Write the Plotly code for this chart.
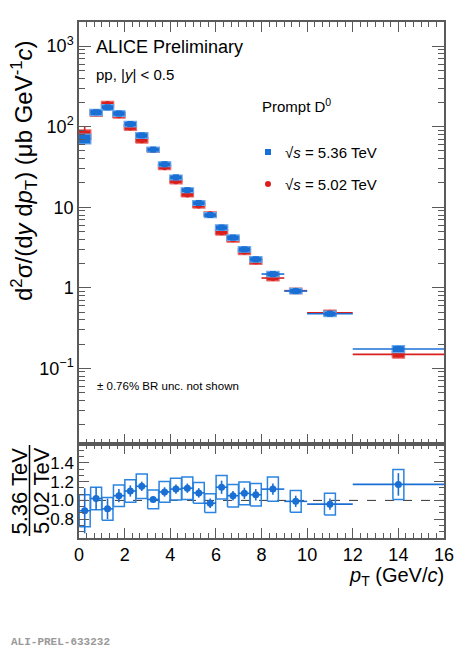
import plotly.graph_objects as go

# pT bins (GeV/c)
pt_lo = [0, 0.5, 1, 1.5, 2, 2.5, 3, 3.5, 4, 4.5, 5, 5.5, 6, 6.5, 7, 7.5, 8, 9, 10, 12]
pt_hi = [0.5, 1, 1.5, 2, 2.5, 3, 3.5, 4, 4.5, 5, 5.5, 6, 6.5, 7, 7.5, 8, 9, 10, 12, 16]

# cross sections (mub GeV^-1 c)
xs_536 = [71, 151, 174, 146, 108, 78, 52, 34.2, 23.5, 16.3, 11.3, 8.0, 5.6, 4.2,
          3.0, 2.26, 1.48, 0.91, 0.475, 0.174]
xs_502 = [80, 148, 191, 139, 98, 68, 51.5, 31.4, 21.0, 14.4, 10.5, 8.2, 4.9, 4.0,
          2.8, 2.12, 1.32, 0.92, 0.49, 0.149]
# relative uncertainties
stat_536 = [0.12, 0.06, 0.04, 0.03, 0.03, 0.03, 0.02, 0.03, 0.03, 0.03, 0.03, 0.03,
            0.04, 0.03, 0.04, 0.04, 0.04, 0.04, 0.04, 0.08]
stat_502 = [0.25, 0.09, 0.07, 0.05, 0.04, 0.03, 0.02, 0.03, 0.03, 0.03, 0.03, 0.03,
            0.04, 0.03, 0.04, 0.04, 0.04, 0.04, 0.04, 0.08]
syst_536 = [0.14, 0.09, 0.08, 0.08, 0.08, 0.08, 0.07, 0.07, 0.07, 0.07, 0.07, 0.07,
            0.08, 0.08, 0.08, 0.08, 0.08, 0.08, 0.08, 0.10]
syst_502 = [0.14, 0.09, 0.08, 0.08, 0.08, 0.08, 0.07, 0.07, 0.07, 0.07, 0.07, 0.07,
            0.08, 0.08, 0.08, 0.08, 0.08, 0.08, 0.08, 0.10]

# ratio 5.36 / 5.02
ratio = [0.89, 1.02, 0.91, 1.05, 1.10, 1.15, 1.01, 1.09, 1.12, 1.13, 1.08, 0.97,
         1.14, 1.05, 1.075, 1.06, 1.12, 0.99, 0.96, 1.17]
ratio_stat = [0.24, 0.12, 0.11, 0.07, 0.06, 0.05, 0.03, 0.05, 0.05, 0.05, 0.05, 0.05,
              0.07, 0.05, 0.06, 0.06, 0.06, 0.06, 0.06, 0.12]
ratio_syst = [0.17, 0.12, 0.12, 0.115, 0.12, 0.13, 0.10, 0.11, 0.115, 0.12, 0.11, 0.10,
              0.125, 0.12, 0.12, 0.12, 0.13, 0.115, 0.115, 0.16]

pt_cen = [(a + b) / 2 for a, b in zip(pt_lo, pt_hi)]
pt_hw = [(b - a) / 2 for a, b in zip(pt_lo, pt_hi)]

BLUE = "#1a6fd4"
BLUE_EDGE = "#6aa8ea"
RED = "#d9201e"
RED_EDGE = "#e86a66"
AX = "#5a5a5a"
FONT = "Liberation Sans, Arial, sans-serif"
W, H = 465, 650
OFF = 8  # page body margin


def px(x):
    return (x - OFF) / W


def py(y):
    return 1 - (y - OFF) / H


def boxes(xc, lo, hi, hw):
    xs, ys = [], []
    for c, l, h in zip(xc, lo, hi):
        xs += [c - hw, c + hw, c + hw, c - hw, c - hw, None]
        ys += [l, l, h, h, l, None]
    return xs, ys


fig = go.Figure()

# upper panel: syst boxes, then points
for vals, stat, syst, col, edge, sym in [
    (xs_502, stat_502, syst_502, RED, RED_EDGE, "circle"),
    (xs_536, stat_536, syst_536, BLUE, BLUE_EDGE, "square"),
]:
    bx, by = boxes(pt_cen, [v * (1 - s) for v, s in zip(vals, syst)],
                   [v * (1 + s) for v, s in zip(vals, syst)], 0.27)
    fig.add_trace(go.Scatter(x=bx, y=by, mode="lines", fill="toself", fillcolor=col,
                             line=dict(color=edge, width=1.2), xaxis="x", yaxis="y",
                             hoverinfo="skip", showlegend=False))
    fig.add_trace(go.Scatter(
        x=pt_cen, y=vals, mode="markers", xaxis="x", yaxis="y", showlegend=False,
        marker=dict(symbol=sym, size=6, color=col),
        error_y=dict(type="data", array=[v * s for v, s in zip(vals, stat)],
                     color=col, thickness=1.6, width=0),
        error_x=dict(type="data", array=pt_hw, color=col, thickness=1.6, width=0),
    ))

# ratio panel
rx, ry = boxes(pt_cen, [r - s for r, s in zip(ratio, ratio_syst)],
               [r + s for r, s in zip(ratio, ratio_syst)], 0.24)
fig.add_trace(go.Scatter(x=rx, y=ry, mode="lines", line=dict(color="#2a84e0", width=1.5),
                         xaxis="x2", yaxis="y2", hoverinfo="skip", showlegend=False))
fig.add_trace(go.Scatter(
    x=pt_cen, y=ratio, mode="markers", xaxis="x2", yaxis="y2", showlegend=False,
    marker=dict(symbol="circle", size=7, color=BLUE),
    error_y=dict(type="data", array=ratio_stat, color=BLUE, thickness=1.6, width=0),
    error_x=dict(type="data", array=pt_hw, color=BLUE, thickness=1.6, width=0),
))

fig.add_shape(type="line", xref="x2", yref="y2", x0=0, x1=16, y0=1, y1=1,
              line=dict(color="#333", width=1, dash="dash"), layer="below")

x_dom = [px(79), px(444)]
common_x = dict(range=[0, 16], dtick=2, ticks="inside", ticklen=10, tickcolor=AX,
                showline=True, linecolor=AX, linewidth=1.5, mirror="ticks",
                showgrid=False, zeroline=False, automargin=False,
                minor=dict(ticks="inside", ticklen=5, dtick=2 / 6, tickcolor=AX))

log_minor = [m * 10 ** e for e in range(-2, 4) for m in range(2, 10)]

fig.update_layout(
    width=W, height=H, margin=dict(l=0, r=0, t=0, b=0, autoexpand=False),
    paper_bgcolor="white", plot_bgcolor="white",
    font=dict(family=FONT, color="black"),
    xaxis=dict(domain=x_dom, anchor="y", showticklabels=False, **common_x),
    yaxis=dict(domain=[py(444), py(22)], type="log", range=[-1.94, 3.30],
               tickvals=[0.1, 1, 10, 100, 1000],
               ticktext=["10<sup>−1</sup>", "1", "10", "10<sup>2</sup>", "10<sup>3</sup>"],
               tickfont=dict(size=18), ticks="inside", ticklen=12, tickcolor=AX,
               showline=True, linecolor=AX, linewidth=1.5, mirror="ticks",
               showgrid=False, zeroline=False, automargin=False,
               minor=dict(ticks="inside", ticklen=6, tickmode="array",
                          tickvals=log_minor, tickcolor=AX)),
    xaxis2=dict(domain=x_dom, anchor="y2", tickfont=dict(size=18), **common_x),
    yaxis2=dict(domain=[py(538), py(444)], range=[0.6, 1.6],
                tickvals=[0.8, 1.0, 1.2, 1.4], ticktext=["0.8", "1.0", "1.2", "1.4"],
                tickfont=dict(size=17), ticks="inside", ticklen=10, tickcolor=AX,
                showline=True, linecolor=AX, linewidth=1.5, mirror="ticks",
                showgrid=False, zeroline=False, automargin=False,
                minor=dict(ticks="inside", ticklen=5, dtick=0.2 / 3, tickcolor=AX)),
)


def note(text, x, y, size, xanchor="left", angle=0, **kw):
    fig.add_annotation(text=text, x=px(x), y=py(y), xref="paper", yref="paper",
                       xanchor=xanchor, yanchor="middle", showarrow=False,
                       borderpad=0, textangle=angle,
                       font=dict(size=size, family=kw.get("family", FONT),
                                 color=kw.get("color", "black")))


note("ALICE Preliminary", 95, 47, 18)
note("pp, |<i>y</i>| &lt; 0.5", 95, 74, 15)
note("Prompt D<sup>0</sup>", 261, 105, 15)
note("√<i>s</i> = 5.36 TeV", 284, 152, 15)
note("√<i>s</i> = 5.02 TeV", 284, 184, 15)
note("± 0.76% BR unc. not shown", 96, 386, 11.5)
note("d<sup>2</sup>σ/(d<i>y</i> d<i>p</i><sub>T</sub>) (μb GeV<sup>-1</sup><i>c</i>)",
     24, 171, 24, xanchor="center", angle=-90)
note("5.36 TeV", 18.5, 491, 22, xanchor="center", angle=-90)
note("5.02 TeV", 41, 491, 22, xanchor="center", angle=-90)
note("<i>p</i><sub>T</sub> (GeV/<i>c</i>)", 445, 576, 20, xanchor="right")
note("<b>ALI-PREL-633232</b>", 10, 642, 11, family="Liberation Mono, Courier New, monospace",
     color="#9a9a9a")

# fraction bar of ratio title
fig.add_shape(type="line", xref="paper", yref="paper", x0=px(29.5), x1=px(29.5),
              y0=py(445), y1=py(536), line=dict(color="black", width=1.5))
# legend glyphs
fig.add_shape(type="rect", xref="paper", yref="paper", x0=px(265), x1=px(271),
              y0=py(155), y1=py(149), fillcolor=BLUE, line=dict(width=0))
fig.add_shape(type="circle", xref="paper", yref="paper", x0=px(265), x1=px(271),
              y0=py(187), y1=py(181), fillcolor=RED, line=dict(width=0))

fig.write_html("out.html")
